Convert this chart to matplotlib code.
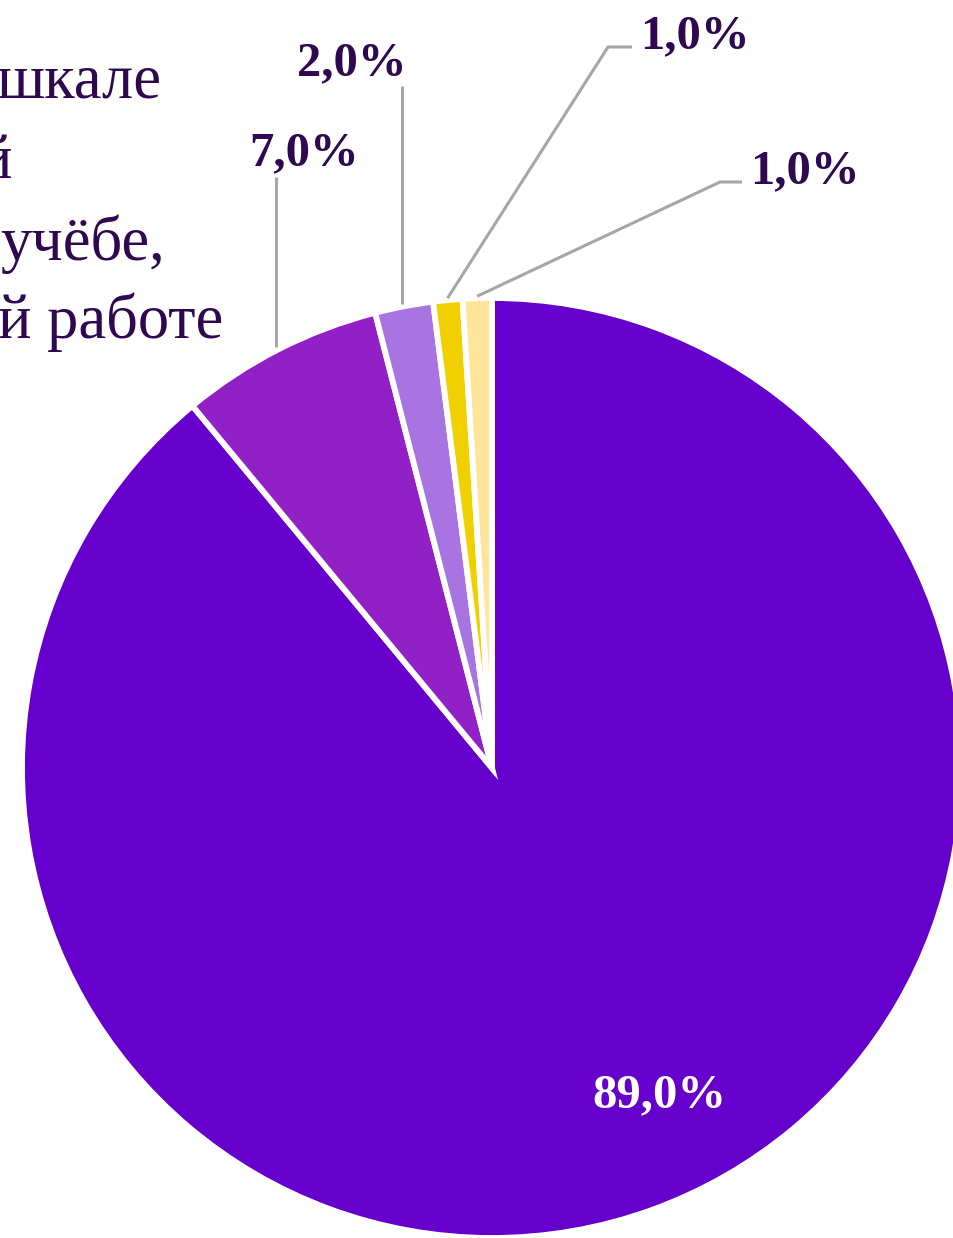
import numpy as np
import matplotlib
matplotlib.use("Agg")
import matplotlib.pyplot as plt

# data
shares = [89.0, 7.0, 2.0, 1.0, 1.0]
labels = ["89,0%", "7,0%", "2,0%", "1,0%", "1,0%"]
colors = ["#6600CC", "#9121C6", "#A874E2", "#F0D000", "#FFE599"]
title_parts = ["шкале", "й", "учёбе,", "й работе"]

W, H = 954, 1238
text_color = "#2E0850"
line_color = "#A6A6A6"

plt.rcParams['font.family'] = ['Liberation Serif', 'DejaVu Serif']

fig = plt.figure(figsize=(W / 100, H / 100), dpi=100)
ax = fig.add_axes([0, 0, 1, 1])

# pie geometry (pixel space, y up)
cx, cy, R = 492, H - 768, 470

wedges, _ = ax.pie(shares, colors=colors, startangle=90, counterclock=False,
                   center=(cx, cy), radius=R,
                   wedgeprops=dict(edgecolor="white", linewidth=4.2))

ax.set_xlim(0, W)
ax.set_ylim(0, H)
ax.set_aspect('equal')
ax.axis('off')

# inner label of the big slice
ax.text(659, H - 1107, labels[0], color="white", fontsize=35, fontweight='bold',
        ha='center', va='baseline')

# outer labels: label x, label baseline y, leader line layout
# ('v', line_x, top_y) = vertical line; ('e', elbow_x, elbow_y, end_x) = elbow line
outer = [
    (304, 165, ('v', 276, 177)),
    (352, 75, ('v', 402, 86)),
    (695, 48, ('e', 608, 47, 632)),
    (805, 183, ('e', 720, 182, 742)),
]

for w, lab, (lx, ly, lead) in zip(wedges[1:], labels[1:], outer):
    mid = np.deg2rad((w.theta1 + w.theta2) / 2)
    ax_x = cx + (R + 2) * np.cos(mid)
    ax_y = cy + (R + 2) * np.sin(mid)
    if lead[0] == 'v':
        xs = [lead[1], lead[1]]
        ys = [ax_y, H - lead[2]]
    else:
        xs = [ax_x, lead[1], lead[3]]
        ys = [ax_y, H - lead[2], H - lead[2]]
    ax.plot(xs, ys, color=line_color, lw=2.2, solid_capstyle='butt', zorder=1)
    ax.text(lx, H - ly, lab, color=text_color, fontsize=35, fontweight='bold',
            ha='center', va='baseline')

# title fragments on the left, cut by the edge as in the source
title_pos = [(162, 98), (12, 178), (165, 260), (223, 338)]
for txt, (tx, ty) in zip(title_parts, title_pos):
    ax.text(tx, H - ty, txt, color=text_color, fontsize=45,
            ha='right', va='baseline')

plt.savefig("out.png", dpi=100)
